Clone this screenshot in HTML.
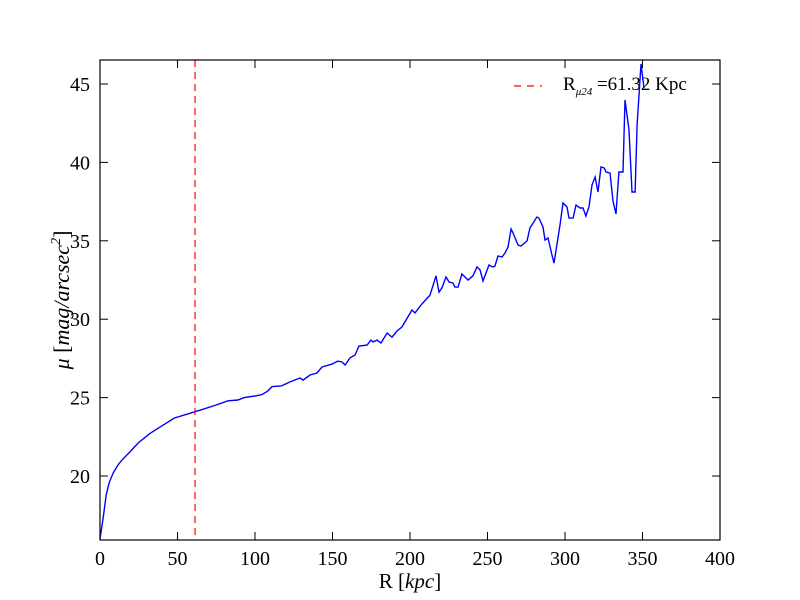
<!DOCTYPE html>
<html><head><meta charset="utf-8"><style>
body{margin:0;background:#fff}
svg{display:block}
text{font-family:"Liberation Serif",serif;fill:#000}
</style></head><body>
<svg id="chart" width="800" height="600">
<rect width="800" height="600" fill="#fff"/>
<g id="ticks"></g>
<g id="legend">
 <line x1="514" y1="86" x2="542" y2="86" stroke="#ff0000" stroke-width="1.3" stroke-dasharray="7,6"/>
 <text x="563" y="90" font-size="19">R<tspan font-size="11" font-style="italic" dy="5">μ24</tspan><tspan dy="-5"> =61.32 Kpc</tspan></text>
</g>
<g id="plot"></g>
<rect x="100" y="60" width="620" height="480" fill="none" stroke="#000" stroke-width="1.2"/>
<text x="410" y="588" font-size="21" text-anchor="middle">R [<tspan font-style="italic">kpc</tspan>]</text>
<text transform="translate(69,300) rotate(-90)" font-size="22" text-anchor="middle"><tspan font-style="italic">μ</tspan> [<tspan font-style="italic">mag/arcsec</tspan><tspan font-size="14" dy="-9" font-style="italic">2</tspan><tspan dy="9">]</tspan></text>
</svg>
<script>
const xTicks=[0,50,100,150,200,250,300,350,400];
const yTicks=[20,25,30,35,40,45];
const radius=[0,2,4,6,8.5,11.6,14,19,24.5,32,40,48,58,64.5,74,82.6,89,93,100,104.5,108,111,117,122.6,129,131,135.5,140,143.2,149.7,153.5,156.1,158.1,161.3,164.5,167.1,172.3,174.8,176.1,178.7,181.3,185.2,188.4,191.6,194.8,201.3,203.2,207.7,212.9,216.8,218.7,220.6,223.2,225.2,227.7,229,231,233.5,237.4,240.6,243.2,245.2,247.1,251,253.5,254.8,256.8,259.4,261.3,263.2,265.2,266.5,269.7,271.6,275.5,277.4,281.9,283.2,285.8,287.1,289,291.6,292.9,296.8,298.7,301.3,302.6,305.2,307.1,309.7,311.6,313.5,315.5,317.4,319.4,321.3,323.2,325.2,326.5,329,331,332.9,334.8,337.4,338.7,341.3,343.2,345.2,346.5,349,351];
const mu=[16.0,17.3,18.8,19.6,20.2,20.7,21.0,21.5,22.1,22.7,23.2,23.7,24.0,24.2,24.5,24.8,24.85,25.0,25.1,25.2,25.4,25.7,25.75,26.0,26.25,26.12,26.44,26.57,26.95,27.14,27.33,27.27,27.08,27.53,27.72,28.29,28.35,28.67,28.55,28.67,28.48,29.12,28.86,29.25,29.5,30.59,30.4,30.97,31.54,32.76,31.73,31.99,32.69,32.37,32.31,32.05,32.05,32.88,32.5,32.76,33.33,33.14,32.44,33.46,33.33,33.39,34.03,33.97,34.22,34.6,35.75,35.49,34.73,34.67,34.99,35.82,36.52,36.45,35.88,35.05,35.18,34.09,33.58,36.01,37.41,37.16,36.45,36.45,37.28,37.09,37.09,36.58,37.16,38.56,39.07,38.11,39.71,39.64,39.39,39.32,37.54,36.71,39.39,39.39,43.98,42.07,38.11,38.11,42.39,46.28,44.74];
const rMu24=[61.32];
const NS='http://www.w3.org/2000/svg';
const L=100,R=720,T=60,B=540,X0=0,X1=400,Y0=15.92,Y1=46.53;
const sx=v=>L+(v-X0)/(X1-X0)*(R-L);
const sy=v=>B-(v-Y0)/(Y1-Y0)*(B-T);
function mk(tag,attrs,parent){const e=document.createElementNS(NS,tag);for(const k in attrs)e.setAttribute(k,attrs[k]);parent.appendChild(e);return e;}
const tk=document.getElementById('ticks');
xTicks.forEach(v=>{const x=sx(v);
 let t=mk('line',{x1:x,x2:x,y1:B,y2:B-8,stroke:'#000'},tk);
 
 
 t=mk('line',{x1:x,x2:x,y1:T,y2:T+8,stroke:'#000'},tk);
 
 
 const l=mk('text',{x:x,y:B+25,'font-size':20,'text-anchor':'middle'},tk);l.textContent=v;
 
 
});
yTicks.forEach(v=>{const y=sy(v);
 let t=mk('line',{x1:L,x2:L+8,y1:y,y2:y,stroke:'#000'},tk);
 
 
 t=mk('line',{x1:R,x2:R-8,y1:y,y2:y,stroke:'#000'},tk);
 
 
 const l=mk('text',{x:L-10,y:y+7,'font-size':20,'text-anchor':'end'},tk);l.textContent=v;
 
 
});
const pl=document.getElementById('plot');
const d=radius.map((r,i)=>(i?'L':'M')+sx(r).toFixed(1)+','+sy(mu[i]).toFixed(1)).join(' ');
const path=mk('path',{d:d,fill:'none',stroke:'#0000ff','stroke-width':1.4},pl);


const vx=sx(rMu24[0]);
const vl=mk('line',{x1:vx,x2:vx,y1:T,y2:B,stroke:'#ff0000','stroke-width':1.2,'stroke-dasharray':'7,5'},pl);


</script>
</body></html>
